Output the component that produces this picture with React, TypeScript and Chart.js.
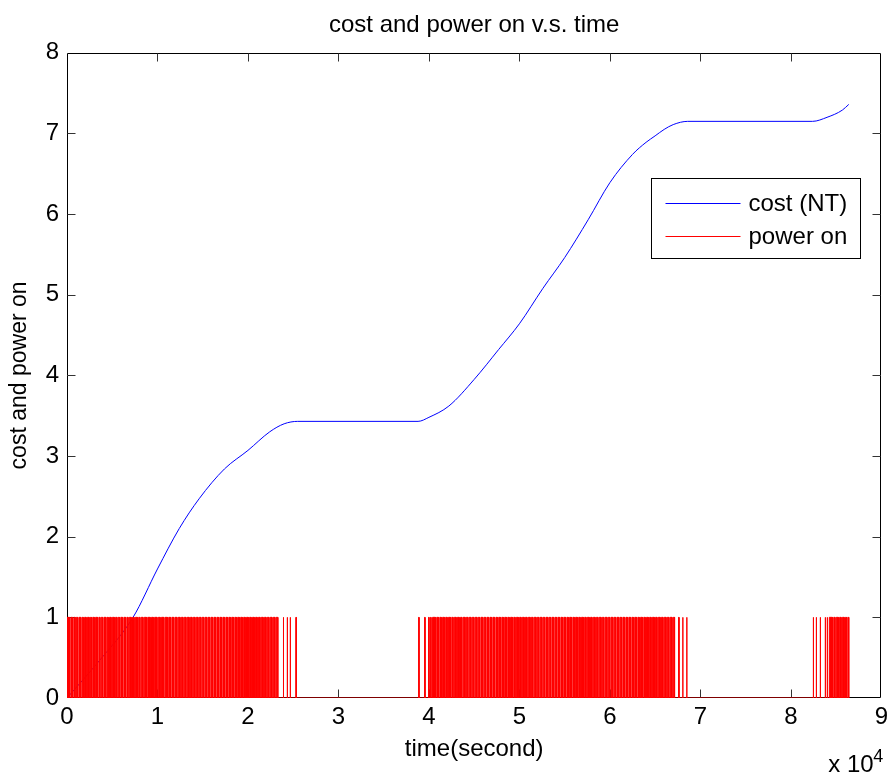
import React, { useEffect, useRef } from 'react';
import { Chart, registerables } from 'chart.js';

Chart.register(...registerables);

const FONT = '"Liberation Sans", Arial, Helvetica, sans-serif';

const chartTitle = 'cost and power on v.s. time';
const xAxisTitle = 'time(second)';
const yAxisTitle = 'cost and power on';
const xExponentBase = 'x 10';
const xExponent = '4';
const xTickScale = 10000;
const xMax = 90000;
const yMax = 8;

const costLabel = 'cost (NT)';
const powerLabel = 'power on';

// cost curve (seconds, NT)
const costTime = [0, 3630, 7300, 10000, 12400, 14600, 17400, 20000, 22400, 24000, 25500, 38800, 40000, 42200, 45000, 47700, 50000, 52600, 55000, 57600, 60000, 62500, 64000, 65000, 66000, 67000, 68600, 82400, 84000, 85700, 86400];
const costValue = [0, 0.47, 1.0, 1.6, 2.1, 2.47, 2.84, 3.07, 3.3, 3.4, 3.43, 3.43, 3.48, 3.62, 3.95, 4.32, 4.64, 5.08, 5.46, 5.93, 6.39, 6.74, 6.89, 6.97, 7.05, 7.11, 7.15, 7.15, 7.2, 7.29, 7.36];

// power on: dense "on" blocks (seconds), brief off gaps inside them, and isolated on pulses
const powerBlocks = [[0, 23300], [40400, 67150], [84250, 86400]];
const powerGaps = [
  280, 610, 900, 1180, 1530, 1800, 2120, 2450, 2700, 3020, 3380, 3650, 3950, 4300, 4560, 4880, 5230, 5520, 5800, 6150,
  6480, 6750, 7100, 7420, 7780, 8060, 8400, 8780, 9200, 9540, 9950, 10300, 10700, 11100, 11450, 11800, 12150, 12500,
  12820, 13150, 13500, 13820, 14150, 14480, 14800, 15120, 15450, 15780, 16100, 16430, 16750, 17080, 17420, 17740,
  18060, 18400, 18720, 19050, 19380, 19700, 20040, 20360, 20700, 21020, 21340, 21680, 22000, 22320, 22660, 22980,
  40720, 41060, 41370, 41710, 42020, 42380, 42670, 43010, 43350, 43640, 44000, 44310, 44650, 44970, 45310, 45610,
  45960, 46270, 46610, 46920, 47270, 47570, 47910, 48230, 48570, 48880, 49230, 49530, 49880, 50190, 50530, 50840,
  51190, 51490, 51840, 52150, 52490, 52800, 53150, 53450, 53800, 54110, 54450, 54760, 55110, 55410, 55760, 56070,
  56410, 56720, 57070, 57370, 57720, 58030, 58370, 58680, 59030, 59330, 59680, 59990, 60330, 60640, 60990, 61290,
  61640, 61950, 62290, 62600, 62950, 63250, 63600, 63910, 64250, 64560, 64910, 65210, 65560, 65870, 66210, 66520,
  66870,
  84600, 84880, 85250, 85560, 85900, 86150,
];
const powerPulses = [23900, 24330, 24660, 25300, 38870, 39530, 39970, 40190, 67600, 68040, 68480, 82470, 82800, 83240, 83790, 84010];
const gapSeconds = 140;
const pulseSeconds = 40;

function buildPowerPoints() {
  const intervals: number[][] = [];
  powerBlocks.forEach(([s, e]) => {
    const inside = powerGaps.filter((g) => g > s && g < e).sort((a, b) => a - b);
    let start = s;
    inside.forEach((g) => {
      intervals.push([start, g]);
      start = g + gapSeconds;
    });
    intervals.push([start, e]);
  });
  powerPulses.forEach((p) => intervals.push([p, p + pulseSeconds]));
  intervals.sort((a, b) => a[0] - b[0]);
  const pts: { x: number; y: number }[] = [];
  intervals.forEach(([s, e]) => {
    pts.push({ x: s, y: 0 }, { x: s, y: 1 }, { x: e, y: 1 }, { x: e, y: 0 });
  });
  return pts;
}

const framePlugin = {
  id: 'matlabFrame',
  beforeDatasetsDraw(chart: any) {
    const { ctx, chartArea, scales } = chart;
    const L = Math.round(chartArea.left) + 0.5;
    const R = Math.round(chartArea.right) - 0.5;
    const T = Math.round(chartArea.top) + 0.5;
    const B = Math.round(chartArea.bottom) - 0.5;
    const len = 8;
    ctx.save();
    ctx.strokeStyle = '#000';
    ctx.lineWidth = 1;
    ctx.beginPath();
    ctx.rect(L, T, R - L, B - T);
    ctx.stroke();
    ctx.strokeStyle = '#333';
    ctx.beginPath();
    scales.x.ticks.forEach((t: any) => {
      const px = Math.round(scales.x.getPixelForValue(t.value)) + 0.5;
      if (px <= L + 1 || px >= R - 1) return;
      ctx.moveTo(px, B); ctx.lineTo(px, B - len);
      ctx.moveTo(px, T); ctx.lineTo(px, T + len);
    });
    scales.y.ticks.forEach((t: any) => {
      const py = Math.round(scales.y.getPixelForValue(t.value)) + 0.5;
      if (py <= T + 1 || py >= B - 1) return;
      ctx.moveTo(L, py); ctx.lineTo(L + len, py);
      ctx.moveTo(R, py); ctx.lineTo(R - len, py);
    });
    ctx.stroke();
    ctx.restore();
  },
};

const overlayPlugin = {
  id: 'matlabOverlay',
  afterDraw(chart: any) {
    const { ctx, chartArea } = chart;
    ctx.save();
    // exponent label
    ctx.fillStyle = '#000';
    ctx.textAlign = 'left';
    ctx.textBaseline = 'alphabetic';
    ctx.font = `24px ${FONT}`;
    ctx.fillText(xExponentBase, chartArea.right - 53, chart.height - 4);
    ctx.font = `18px ${FONT}`;
    ctx.fillText(xExponent, chartArea.right - 8, chart.height - 14);
    // legend
    const x = Math.round(chartArea.right) - 230 + 0.5;
    const y = Math.round(chartArea.top) + 125 + 0.5;
    const w = 209;
    const h = 80;
    ctx.fillStyle = '#fff';
    ctx.fillRect(x, y, w, h);
    ctx.strokeStyle = '#000';
    ctx.lineWidth = 1;
    ctx.strokeRect(x, y, w, h);
    chart.data.datasets.forEach((ds: any, i: number) => {
      const ry = Math.round(y + 24 + i * 33) + 0.5;
      ctx.strokeStyle = ds.borderColor;
      ctx.beginPath();
      ctx.moveTo(x + 14, ry);
      ctx.lineTo(x + 89, ry);
      ctx.stroke();
      ctx.fillStyle = '#000';
      ctx.font = `24px ${FONT}`;
      ctx.textBaseline = 'middle';
      ctx.fillText(ds.label, x + 97, ry + 1);
    });
    ctx.restore();
  },
};

export default function App() {
  const ref = useRef<HTMLCanvasElement | null>(null);
  useEffect(() => {
    if (!ref.current) return;
    const chart = new Chart(ref.current, {
      type: 'line',
      data: {
        datasets: [
          {
            label: costLabel,
            data: costTime.map((t, i) => ({ x: t, y: costValue[i] })),
            borderColor: 'rgb(0,0,255)',
            borderWidth: 1,
            pointRadius: 0,
            cubicInterpolationMode: 'monotone',
            fill: false,
            order: 1,
          },
          {
            label: powerLabel,
            data: buildPowerPoints(),
            borderColor: 'rgb(255,0,0)',
            backgroundColor: 'rgb(255,0,0)',
            borderWidth: 1,
            pointRadius: 0,
            tension: 0,
            fill: 'origin',
            order: 0,
          },
        ],
      },
      options: {
        animation: false,
        responsive: false,
        maintainAspectRatio: false,
        devicePixelRatio: 1,
        events: [],
        layout: { padding: { left: 0, right: 0, top: 0, bottom: 0 } },
        plugins: {
          legend: { display: false },
          tooltip: { enabled: false },
          title: {
            display: true,
            text: chartTitle,
            fullSize: false,
            color: '#000',
            font: { family: FONT, size: 24, weight: 'normal' },
            padding: { top: 11, bottom: 13 },
          },
        },
        scales: {
          x: {
            type: 'linear',
            min: 0,
            max: xMax,
            grid: { display: false, drawTicks: false },
            border: { display: false },
            ticks: {
              stepSize: xTickScale,
              autoSkip: false,
              maxRotation: 0,
              padding: 5,
              color: '#000',
              font: { family: FONT, size: 24 },
              callback: (v: any) => String(Math.round(Number(v) / xTickScale)),
            },
            title: {
              display: true,
              text: xAxisTitle,
              color: '#000',
              font: { family: FONT, size: 24 },
              padding: { top: 0, bottom: 12 },
            },
            afterFit: (s: any) => { s.height = 78; },
          },
          y: {
            type: 'linear',
            min: 0,
            max: yMax,
            grid: { display: false, drawTicks: false },
            border: { display: false },
            ticks: {
              stepSize: 1,
              padding: 8,
              color: '#000',
              font: { family: FONT, size: 24 },
            },
            title: {
              display: true,
              text: yAxisTitle,
              color: '#000',
              font: { family: FONT, size: 23 },
              padding: { top: 6, bottom: 0 },
            },
            afterFit: (s: any) => { s.width = 67; },
          },
        },
      },
      plugins: [framePlugin, overlayPlugin],
    });
    return () => chart.destroy();
  }, []);
  return (
    <div style={{ position: 'absolute', left: 0, top: 0, width: 893, height: 776, background: '#fff' }}>
      <canvas ref={ref} width={893} height={776} style={{ width: 893, height: 776 }} />
    </div>
  );
}
